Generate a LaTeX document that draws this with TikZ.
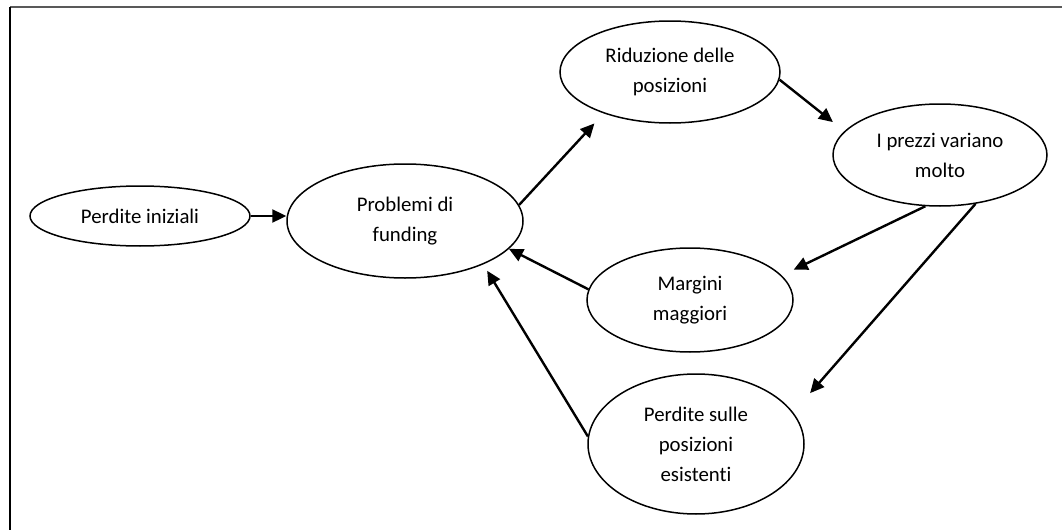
\documentclass[tikz,border=0pt]{standalone}
\usepackage{fontspec}
\setmainfont[Ligatures={NoCommon}]{Carlito}
\usetikzlibrary{arrows.meta,shapes.geometric}
\tikzset{
  bub/.style={draw=black, line width=0.75pt, ellipse, inner sep=0pt, align=center,
    font=\fontsize{10.4}{15}\selectfont},
  arr/.style={line width=1.2pt, -{Triangle[length=7pt,width=6.5pt]}},
}
\begin{document}
\begin{tikzpicture}[x=0.5pt,y=-0.5pt]
\useasboundingbox (0,0) rectangle (1062,530);
\draw[line width=1pt, draw=black!65] (10,7) -- (1062,7);
\draw[line width=1.2pt] (10,6.5) -- (10,530);

\node[bub, minimum width=110pt, minimum height=30pt] (pi) at (140,216) {Perdite iniziali};
\node[bub, minimum width=118pt, minimum height=57pt] (pf) at (405,221) {Problemi di\\funding};
\node[bub, minimum width=110pt, minimum height=51pt] (rd) at (670,72) {Riduzione delle\\posizioni};
\node[bub, minimum width=107pt, minimum height=51pt] (ip) at (940,155) {I prezzi variano\\molto};
\node[bub, minimum width=103pt, minimum height=52pt] (mg) at (690,300) {Margini\\maggiori};
\node[bub, minimum width=108pt, minimum height=70pt] (ps) at (696,444) {Perdite sulle\\posizioni\\esistenti};

\draw[arr] (pi.east) -- (pi.east -| pf.west);
\draw[arr, shorten >=6.8pt] (pf.8) -- (rd.212);
\draw[arr, shorten >=7.3pt] (rd.-4) -- (ip.166);
\draw[arr, shorten >=6.6pt] (ip.-106) -- (mg.15);
\draw[arr, shorten >=12.8pt] (ip.-54) -- (ps.18);
\draw[arr] (mg.174) -- (pf.-15);
\draw[arr, shorten >=3.7pt] (ps.176) -- (pf.-29);
\end{tikzpicture}
\end{document}
